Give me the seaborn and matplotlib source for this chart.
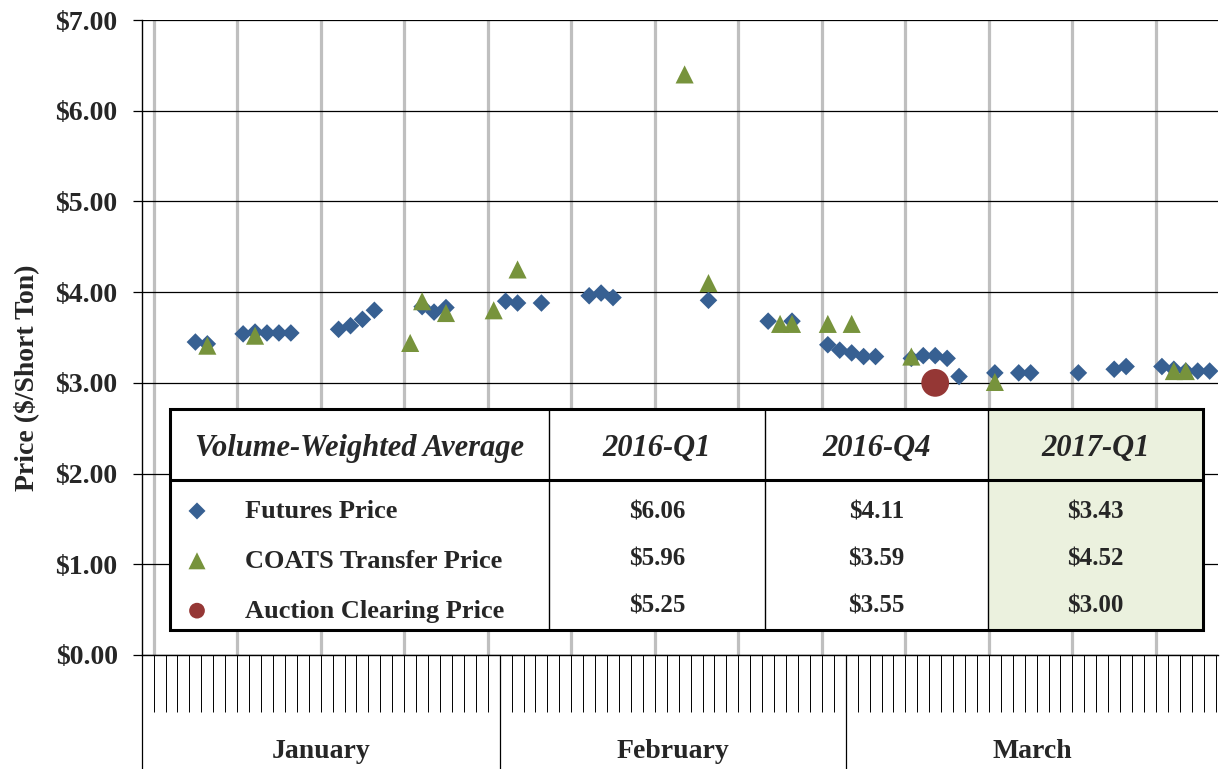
import numpy as np
import pandas as pd
import matplotlib
matplotlib.use('Agg')
import matplotlib.pyplot as plt
import matplotlib.transforms as mtransforms
from matplotlib.patches import Rectangle
import seaborn as sns

# daily prices ($/short ton)
futures_dates = ['2017-01-05', '2017-01-06', '2017-01-09', '2017-01-10', '2017-01-11',
                 '2017-01-12', '2017-01-13', '2017-01-17', '2017-01-18', '2017-01-19',
                 '2017-01-20', '2017-01-24', '2017-01-25', '2017-01-26', '2017-01-31',
                 '2017-02-01', '2017-02-03', '2017-02-07', '2017-02-08', '2017-02-09',
                 '2017-02-17', '2017-02-22', '2017-02-24', '2017-02-27', '2017-02-28',
                 '2017-03-01', '2017-03-02', '2017-03-03', '2017-03-06', '2017-03-07',
                 '2017-03-08', '2017-03-09', '2017-03-10', '2017-03-13', '2017-03-15',
                 '2017-03-16', '2017-03-20', '2017-03-23', '2017-03-24', '2017-03-27',
                 '2017-03-28', '2017-03-29', '2017-03-30', '2017-03-31']
futures_price = [3.45, 3.43, 3.54, 3.56, 3.55,
                 3.55, 3.55, 3.59, 3.63, 3.70,
                 3.80, 3.84, 3.78, 3.83, 3.90,
                 3.88, 3.88, 3.96, 3.99, 3.94,
                 3.91, 3.68, 3.68, 3.42, 3.36,
                 3.33, 3.29, 3.29, 3.27, 3.30,
                 3.30, 3.27, 3.07, 3.11, 3.11,
                 3.11, 3.11, 3.15, 3.18, 3.18,
                 3.15, 3.13, 3.13, 3.13]

coats_dates = ['2017-01-06', '2017-01-10', '2017-01-23', '2017-01-24', '2017-01-26',
               '2017-01-30', '2017-02-01', '2017-02-15', '2017-02-17', '2017-02-23',
               '2017-02-24', '2017-02-27', '2017-03-01', '2017-03-06', '2017-03-13',
               '2017-03-28', '2017-03-29']
coats_price = [3.41, 3.52, 3.44, 3.90, 3.77,
               3.80, 4.25, 6.40, 4.10, 3.65,
               3.65, 3.65, 3.65, 3.29, 3.01,
               3.13, 3.13]

auction_dates = ['2017-03-08']
auction_price = [3.00]

# summary table
table_header = ['Volume-Weighted Average', '2016-Q1', '2016-Q4', '2017-Q1']
futures_avg = ['$6.06', '$4.11', '$3.43']
coats_avg = ['$5.96', '$3.59', '$4.52']
auction_avg = ['$5.25', '$3.55', '$3.00']

months = ['January', 'February', 'March']
month_edges = [-1, 29, 58, 89.2]

blue = '#376092'
green = '#77933C'
red = '#953735'

start = pd.Timestamp('2017-01-02')


def to_pos(dates):
    # one slot per calendar day, point in the middle of the slot
    return np.asarray((pd.to_datetime(dates) - start).days, dtype=float) + 0.5


sns.set_style('white')
plt.rcParams['font.family'] = ['Liberation Serif', 'DejaVu Serif']
plt.rcParams['font.weight'] = 'bold'

W, H = 1220, 769
fig = plt.figure(figsize=(W / 100, H / 100), dpi=100)
ax_l, ax_r, ax_t, ax_b = 141.7, 1218, 20, 655
ax = fig.add_axes([ax_l / W, 1 - ax_b / H, (ax_r - ax_l) / W, (ax_b - ax_t) / H])

sns.scatterplot(x=to_pos(futures_dates), y=futures_price, marker='D', s=80,
                color=blue, edgecolor='none', linewidth=0, label='Futures Price',
                ax=ax, zorder=3)
sns.scatterplot(x=to_pos(coats_dates), y=coats_price, marker='^', s=170,
                color=green, edgecolor='none', linewidth=0, label='COATS Transfer Price',
                ax=ax, zorder=4)
sns.scatterplot(x=to_pos(auction_dates), y=auction_price, marker='o', s=400,
                color=red, edgecolor='none', linewidth=0, label='Auction Clearing Price',
                ax=ax, zorder=5)

ax.set_xlim(month_edges[0], month_edges[-1])
ax.set_ylim(0, 7)
ax.set_yticks(range(8))
ax.set_yticklabels([f'${v:.2f}' for v in range(8)])
ax.set_xticks(np.arange(0, 85, 7))
ax.set_xticks(np.arange(0, 90), minor=True)
ax.tick_params(axis='x', which='both', bottom=True, length=41, width=0.7, color='black',
               direction='out', labelbottom=False)
ax.tick_params(axis='y', left=True, length=6.3, width=0.9, color='black', labelsize=20, pad=11)
for lab in ax.get_yticklabels():
    lab.set_fontweight('bold')

ax.set_axisbelow(True)
ax.grid(axis='x', which='major', color='#BFBFBF', lw=2.3)
ax.grid(axis='y', color='black', lw=0.9)
for side in ['top', 'right']:
    ax.spines[side].set_visible(False)
for side in ['left', 'bottom']:
    ax.spines[side].set_color('black')
    ax.spines[side].set_linewidth(1.0)

ax.set_ylabel('Price ($/Short Ton)', fontsize=20, fontweight='bold')
ax.yaxis.set_label_coords((39 - ax_l) / (ax_r - ax_l), (ax_b - 378) / (ax_b - ax_t))

# month band under the axis
trans = mtransforms.blended_transform_factory(ax.transData, ax.transAxes)
y_low = -(H - ax_b) / (ax_b - ax_t)
for x in month_edges[:-1]:
    ax.plot([x, x], [0, y_low], transform=trans, clip_on=False, color='black', lw=0.9)
for name, a, b in zip(months, month_edges[:-1], month_edges[1:]):
    ax.text((a + b) / 2, -(752 - ax_b) / (ax_b - ax_t), name, transform=trans,
            ha='center', va='center', fontsize=20, fontweight='bold')


# table inset
def ax_x(px):
    return (px - ax_l) / (ax_r - ax_l)


def ax_y(py):
    return (ax_b - py) / (ax_b - ax_t)


col_edges = [170, 549, 765, 988, 1203]
t_top, t_head, t_bot = 409, 480, 630
t_split = 488  # header cell text area ends here, body text sits a bit low
widths = np.diff(col_edges) / (col_edges[-1] - col_edges[0])
cells = [[''] + futures_avg, [''] + coats_avg, [''] + auction_avg]
tbl = ax.table(cellText=cells, colLabels=table_header, colWidths=list(widths),
               cellLoc='center',
               bbox=[ax_x(col_edges[0]), ax_y(t_bot),
                     ax_x(col_edges[-1]) - ax_x(col_edges[0]), ax_y(t_top) - ax_y(t_bot)])
tbl.auto_set_font_size(False)
tbl.set_zorder(6)
for (r, c), cell in tbl.get_celld().items():
    cell.set_linewidth(0)
    cell.set_edgecolor('none')
    cell.set_facecolor('#EBF1DE' if c == 3 else 'white')
    if r == 0:
        cell.set_height(t_split - t_top)
        cell.get_text().set_fontsize(22)
        cell.get_text().set_fontstyle('italic')
    else:
        cell.set_height((t_bot - t_split) / 3)
        cell.get_text().set_fontsize(18)
    cell.get_text().set_fontweight('bold')

# table lines: thin column rules, thick frame and header rule
for px in col_edges[1:-1]:
    ax.plot([ax_x(px)] * 2, [ax_y(t_bot), ax_y(t_top)], transform=ax.transAxes,
            color='black', lw=1.0, zorder=7, clip_on=False)
ax.add_patch(Rectangle((ax_x(col_edges[0]), ax_y(t_bot)),
                       ax_x(col_edges[-1]) - ax_x(col_edges[0]), ax_y(t_top) - ax_y(t_bot),
                       transform=ax.transAxes, fill=False, lw=2.2, edgecolor='black',
                       zorder=7, clip_on=False))
ax.plot([ax_x(col_edges[0]), ax_x(col_edges[-1])], [ax_y(t_head)] * 2,
        transform=ax.transAxes, color='black', lw=2.2, zorder=7, clip_on=False)

# legend sits in the first column of the table
fs = 19
fs_px = fs * 100 / 72
leg = ax.legend(loc='center left', bbox_to_anchor=(ax_x(197 - fs_px / 2), ax_y(561)),
                frameon=False, fontsize=fs, handlelength=1.0,
                handletextpad=(245 - 197 - fs_px / 2) / fs_px,
                labelspacing=1.0, borderpad=0, borderaxespad=0)
leg.set_zorder(8)
for h, size in zip(leg.legend_handles, [75, 150, 128]):
    h.set_sizes([size])
for t in leg.get_texts():
    t.set_fontweight('bold')

fig.savefig('out.png', dpi=100)
